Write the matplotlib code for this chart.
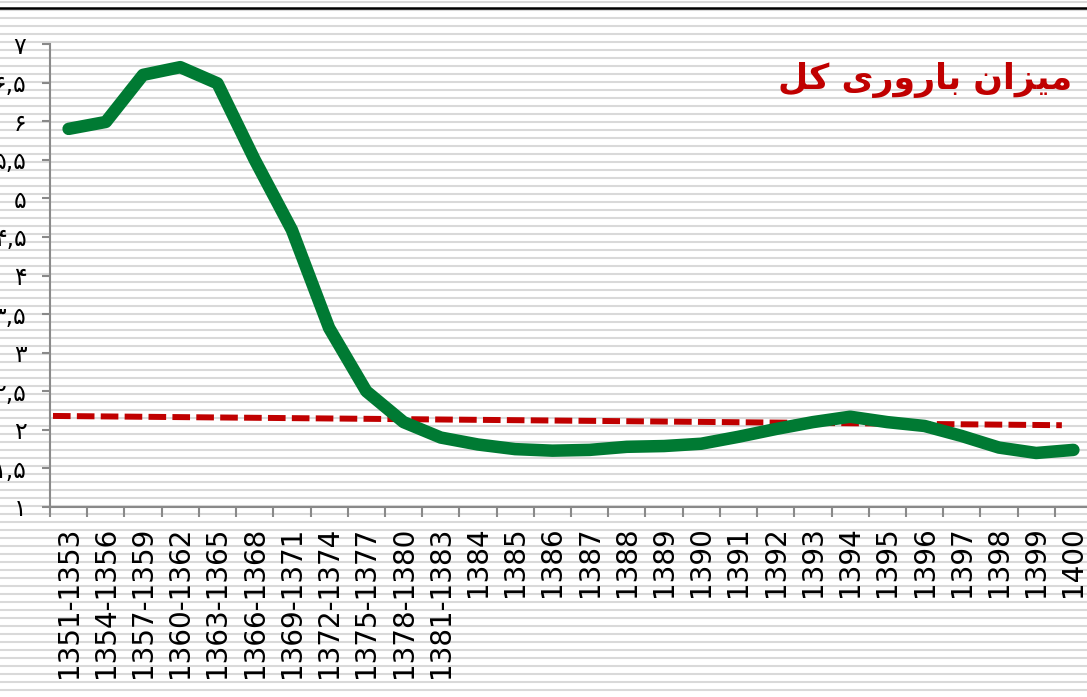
import numpy as np
import matplotlib.pyplot as plt

periods = ['1351-1353', '1354-1356', '1357-1359', '1360-1362', '1363-1365',
           '1366-1368', '1369-1371', '1372-1374', '1375-1377', '1378-1380',
           '1381-1383', '1384', '1385', '1386', '1387', '1388', '1389', '1390',
           '1391', '1392', '1393', '1394', '1395', '1396', '1397', '1398',
           '1399', '1400']
tfr = [5.90, 5.99, 6.60, 6.70, 6.49, 5.50, 4.59, 3.32, 2.50, 2.10,
       1.90, 1.81, 1.75, 1.73, 1.74, 1.78, 1.79, 1.82, 1.91, 2.01,
       2.10, 2.17, 2.10, 2.05, 1.92, 1.77, 1.70, 1.74]
# dashed reference line (start / end)
ref_x = [-0.42, 26.69]
ref_y = [2.18, 2.06]

y_ticks = [1, 1.5, 2, 2.5, 3, 3.5, 4, 4.5, 5, 5.5, 6, 6.5, 7]
y_labels = ['\u06F1', '\u06F1,\u06F5', '\u06F2', '\u06F2,\u06F5', '\u06F3',
            '\u06F3,\u06F5', '\u06F4', '\u06F4,\u06F5', '\u06F5', '\u06F5,\u06F5',
            '\u06F6', '\u06F6,\u06F5', '\u06F7']
# "میزان باروری کل" in shaped, visual order
title = '\uFEDE\uFB90 \uFBFC\uFEAD\uFEED\uFEAD\uFE8E\uFE91 \uFEE5\uFE8D\uFEB0\uFBFF\uFEE3'

W, H = 1087, 697
fig = plt.figure(figsize=(W / 100, H / 100), dpi=100)

# striped background
bg = fig.add_axes([0, 0, 1, 1], zorder=-1)
bg.set_xlim(0, W)
bg.set_ylim(H, 0)
bg.axis('off')
bg.hlines(np.arange(1.7, H, 8), 0, W, color='#d9d9d9', lw=1.5)
bg.axhline(7.8, color='black', lw=1.8)

gray = '#898989'
ax = fig.add_axes([50 / W, 1 - 507 / H, 1042 / W, 463 / H])
ax.patch.set_visible(False)

x = np.arange(len(periods))
ax.plot(ref_x, ref_y, color='#c00000', lw=4.3, dashes=(2.95, 1.05), zorder=3)
ax.plot(x, tfr, color='#007a33', lw=9, solid_capstyle='round',
        solid_joinstyle='round', zorder=4)

ax.set_xlim(-0.5, len(periods) - 0.5)
ax.set_ylim(1, 7)
ax.set_xticks(x)
ax.set_xticklabels(periods, rotation=90, fontsize=20, family='DejaVu Sans')
ax.set_xticks(np.arange(-0.5, len(periods), 1), minor=True)
ax.tick_params(axis='x', which='major', length=0, pad=14)
ax.tick_params(axis='x', which='minor', length=7, width=1.5, color=gray, direction='out')
ax.set_yticks(y_ticks)
ax.set_yticklabels(y_labels, fontsize=17)
ax.tick_params(axis='y', length=6, width=1.5, color=gray, direction='out', pad=11)

for s in ['top', 'right']:
    ax.spines[s].set_visible(False)
for s in ['left', 'bottom']:
    ax.spines[s].set_color(gray)
    ax.spines[s].set_linewidth(1.5)

fig.text(1072 / W, 1 - 80 / H, title, color='#c00000', fontsize=25,
         fontweight='bold', ha='right', va='center',
         family=['DejaVu Sans', 'Noto Sans'])

fig.savefig('out.png', dpi=100)
